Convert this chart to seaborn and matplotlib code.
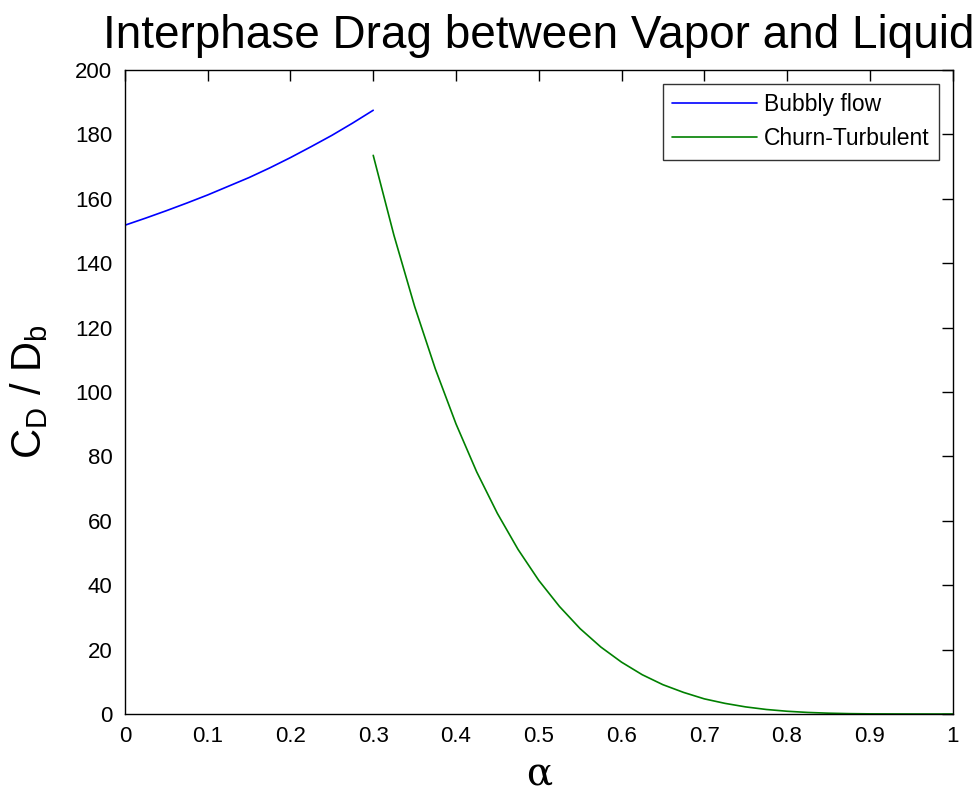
import numpy as np
import pandas as pd
import matplotlib
matplotlib.use("Agg")
import matplotlib.pyplot as plt
import seaborn as sns

# Data
bubbly_alpha = [0.0, 0.025, 0.05, 0.075, 0.1, 0.125, 0.15, 0.175, 0.2, 0.225, 0.25, 0.275, 0.3]
bubbly_cd = [151.8, 154.0, 156.3, 158.7, 161.2, 163.9, 166.6, 169.6, 172.8, 176.2, 179.7, 183.5, 187.5]

churn_alpha = [0.3, 0.325, 0.35, 0.375, 0.4, 0.425, 0.45, 0.475, 0.5, 0.525, 0.55, 0.575,
               0.6, 0.625, 0.65, 0.675, 0.7, 0.725, 0.75, 0.775, 0.8, 0.825, 0.85, 0.875,
               0.9, 0.925, 0.95, 0.975, 1.0]
churn_cd = [173.5, 148.7, 126.6, 107.2, 90.1, 75.2, 62.3, 51.1, 41.5, 33.4, 26.5, 20.8,
            16.1, 12.2, 9.1, 6.7, 4.7, 3.3, 2.2, 1.4, 0.85, 0.48, 0.25, 0.11,
            0.04, 0.02, 0.005, 0.0, 0.0]

x_ticks = [0, 0.1, 0.2, 0.3, 0.4, 0.5, 0.6, 0.7, 0.8, 0.9, 1]
x_tick_labels = ["0", "0.1", "0.2", "0.3", "0.4", "0.5", "0.6", "0.7", "0.8", "0.9", "1"]
y_ticks = [0, 20, 40, 60, 80, 100, 120, 140, 160, 180, 200]

series_names = ["Bubbly flow", "Churn-Turbulent"]
title_text = "Interphase Drag between Vapor and Liquid"

sns.set_style("white")
plt.rcParams["font.family"] = ["Liberation Sans", "DejaVu Sans"]
plt.rcParams["text.color"] = "black"
plt.rcParams["axes.labelcolor"] = "black"
plt.rcParams["xtick.color"] = "black"
plt.rcParams["ytick.color"] = "black"
plt.rcParams["mathtext.fontset"] = "custom"
plt.rcParams["mathtext.rm"] = "Liberation Sans"
plt.rcParams["mathtext.it"] = "Liberation Sans"

df = pd.concat([
    pd.DataFrame({"alpha": bubbly_alpha, "cd": bubbly_cd, "flow": series_names[0]}),
    pd.DataFrame({"alpha": churn_alpha, "cd": churn_cd, "flow": series_names[1]}),
])

fig = plt.figure(figsize=(9.76, 7.92), dpi=100)
ax = fig.add_axes([0.128, 0.0985, 0.848, 0.8131])

sns.lineplot(data=df, x="alpha", y="cd", hue="flow",
             palette={series_names[0]: "#0000ff", series_names[1]: "#008000"},
             linewidth=1.2, ax=ax, sort=False, estimator=None)

ax.set_xlim(0, 1)
ax.set_ylim(0, 200)
ax.set_xticks(x_ticks)
ax.set_xticklabels(x_tick_labels)
ax.set_yticks(y_ticks)
for lab in ax.get_xticklabels() + ax.get_yticklabels():
    lab.set_fontsize(16)
    lab.set_color("black")
ax.tick_params(direction="in", length=8, width=1, top=True, right=True,
               colors="black", pad=9)
for s in ax.spines.values():
    s.set_visible(True)
    s.set_color("black")
    s.set_linewidth(1.0)

ax.set_xlabel("α", fontsize=28, family=["DejaVu Serif", "DejaVu Sans"], labelpad=6,
              color="black")
ax.set_ylabel(r"C$_\mathregular{D}$ / D$_\mathregular{b}$", fontsize=30, labelpad=18,
              color="black")
ax.set_title(title_text, fontsize=33, pad=16, color="black")

leg = ax.legend(loc="upper right", fontsize=16.5, frameon=True, fancybox=False,
                edgecolor="black", handlelength=3.7, borderpad=0.4,
                labelspacing=0.5, borderaxespad=0.6, handletextpad=0.3)
leg.get_frame().set_linewidth(1.0)
for t in leg.get_texts():
    t.set_color("black")

fig.savefig("out.png", dpi=100)
